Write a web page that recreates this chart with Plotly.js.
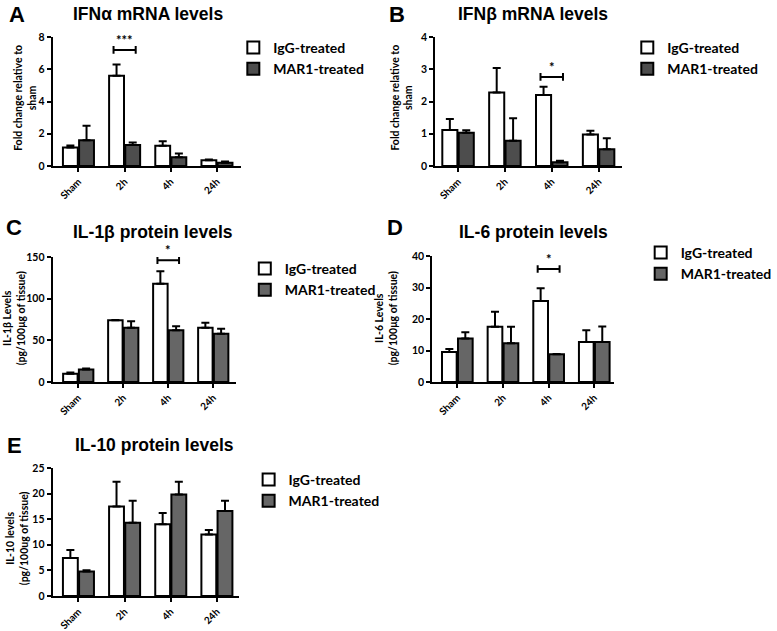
<!DOCTYPE html>
<html><head><meta charset="utf-8">
<script src="https://cdn.plot.ly/plotly-3.0.1.min.js"></script>
<style>html,body{margin:0;padding:0;background:#fff;}#chart{width:777px;height:631px;}</style>
</head><body><div id="chart"></div>
<script>
// ---- Data ----
const categories = ['Sham', '2h', '4h', '24h'];
const seriesNames = ['IgG-treated', 'MAR1-treated'];

// Panel A: IFNα mRNA (fold change)
const ifnaIgG = [1.15, 5.6, 1.25, 0.35];
const ifnaIgGErr = [0.12, 0.7, 0.28, 0.05];
const ifnaMAR1 = [1.6, 1.3, 0.55, 0.2];
const ifnaMAR1Err = [0.9, 0.15, 0.22, 0.08];

// Panel B: IFNβ mRNA (fold change)
const ifnbIgG = [1.12, 2.28, 2.2, 0.98];
const ifnbIgGErr = [0.34, 0.76, 0.26, 0.11];
const ifnbMAR1 = [1.03, 0.78, 0.12, 0.52];
const ifnbMAR1Err = [0.08, 0.7, 0.04, 0.34];

// Panel C: IL-1β protein (pg/100µg tissue)
const il1bIgG = [10, 74, 118, 65];
const il1bIgGErr = [1.5, 0.5, 15, 6];
const il1bMAR1 = [15, 65, 62, 58];
const il1bMAR1Err = [1.2, 8, 5, 6];

// Panel D: IL-6 protein
const il6IgG = [9.5, 17.5, 25.7, 12.7];
const il6IgGErr = [1.0, 4.8, 4.1, 3.7];
const il6MAR1 = [13.8, 12.3, 8.8, 12.7];
const il6MAR1Err = [2.0, 5.2, 0.05, 4.9];

// Panel E: IL-10 protein
const il10IgG = [7.4, 17.5, 14.0, 12.0];
const il10IgGErr = [1.6, 4.8, 2.2, 0.9];
const il10MAR1 = [4.8, 14.3, 19.8, 16.6];
const il10MAR1Err = [0.25, 4.3, 2.5, 2.0];

// Significance (category index, star label, bracket level in data units)
const sigA = {cat: 1, label: '***', level: 7.2};
const sigB = {cat: 2, label: '*', level: 2.76};
const sigC = {cat: 2, label: '*', level: 146};
const sigD = {cat: 2, label: '*', level: 35.9};

// ---- Layout helpers ----
const W = 777, H = 631;
const fx = p => p / W;
const fy = p => 1 - p / H;
const xTickFont = {family: 'Lato, "Open Sans", sans-serif', size: 10, color: '#000', weight: 'bold'};
const yTickFont = {family: 'Lato, "Open Sans", sans-serif', size: 10.5, color: '#000', weight: 'bold'};
const legFont = {family: 'Lato, "Open Sans", sans-serif', size: 14, color: '#000', weight: 'bold'};

const panels = [
  {id: '', igg: ifnaIgG, iggE: ifnaIgGErr, mar: ifnaMAR1, marE: ifnaMAR1Err, dark: '#4d4d4d',
   xpx: [55, 252], ypx: [166, 37], xr: [-0.56, 3.52], yr: [0, 8], dt: 2,
   letter: 'A', lpos: [18, 15], title: 'IFN\u03b1 mRNA levels', tpos: [155, 14],
   ytitle: 'Fold change relative to<br>sham', ytpos: [26, 98],
   leg: [244, 32], sig: sigA},
  {id: '2', igg: ifnbIgG, iggE: ifnbIgGErr, mar: ifnbMAR1, marE: ifnbMAR1Err, dark: '#4d4d4d',
   xpx: [455, 650], ypx: [166, 37], xr: [-0.49, 3.49], yr: [0, 4], dt: 1,
   letter: 'B', lpos: [415, 14], title: 'IFN\u03b2 mRNA levels', tpos: [557, 14],
   ytitle: 'Fold change relative to<br>sham', ytpos: [420, 98],
   leg: [656, 32], sig: sigB},
  {id: '3', igg: il1bIgG, iggE: il1bIgGErr, mar: il1bMAR1, marE: il1bMAR1Err, dark: '#666666',
   xpx: [55, 247], ypx: [382, 257], xr: [-0.57, 3.51], yr: [0, 150], dt: 50,
   letter: 'C', lpos: [15, 228], title: 'IL-1\u03b2 protein levels', tpos: [160, 232],
   ytitle: 'IL-1\u03b2 Levels<br>(pg/100\u03bcg of tissue)', ytpos: [15, 318],
   leg: [256, 253], sig: sigC},
  {id: '4', igg: il6IgG, iggE: il6IgGErr, mar: il6MAR1, marE: il6MAR1Err, dark: '#666666',
   xpx: [452, 642], ypx: [382, 256], xr: [-0.55, 3.43], yr: [0, 40], dt: 10,
   letter: 'D', lpos: [413, 228], title: 'IL-6 protein levels', tpos: [558, 232],
   ytitle: 'IL-6 Levels<br>(pg/100\u03bcg of tissue)', ytpos: [404, 318],
   leg: [670, 237], sig: sigD},
  {id: '5', igg: il10IgG, iggE: il10IgGErr, mar: il10MAR1, marE: il10MAR1Err, dark: '#666666',
   xpx: [55, 250], ypx: [596, 468], xr: [-0.56, 3.48], yr: [0, 25], dt: 5,
   letter: 'E', lpos: [15, 445], title: 'IL-10 protein levels', tpos: [162, 445],
   ytitle: 'IL-10 levels<br>(pg/100ug of tissue)', ytpos: [18, 538],
   leg: [260, 464], sig: null}
];

const data = [];
const layout = {
  width: W, height: H, margin: {l: 0, r: 0, t: 0, b: 0},
  paper_bgcolor: '#fff', plot_bgcolor: 'rgba(0,0,0,0)',
  barmode: 'group', bargap: 0.3, bargroupgap: 0.08,
  showlegend: true, annotations: [], shapes: [],
  font: {family: 'Lato, sans-serif', color: '#000'}
};

panels.forEach((p, i) => {
  const xa = 'x' + p.id, ya = 'y' + p.id;
  const legName = i === 0 ? 'legend' : 'legend' + (i + 1);
  const zeros = categories.map(() => 0);
  data.push({
    type: 'bar', x: categories, y: p.igg, name: seriesNames[0], xaxis: xa, yaxis: ya, legend: legName,
    marker: {color: '#ffffff', line: {color: '#000', width: 2}},
    error_y: {type: 'data', symmetric: false, array: p.iggE, arrayminus: zeros, color: '#000', thickness: 2, width: 4}
  });
  data.push({
    type: 'bar', x: categories, y: p.mar, name: seriesNames[1], xaxis: xa, yaxis: ya, legend: legName,
    marker: {color: p.dark, line: {color: '#000', width: 2}},
    error_y: {type: 'data', symmetric: false, array: p.marE, arrayminus: zeros, color: '#000', thickness: 2, width: 4}
  });
  const xk = 'xaxis' + p.id, yk = 'yaxis' + p.id;
  layout[xk] = {
    domain: [fx(p.xpx[0]), fx(p.xpx[1])], anchor: ya, type: 'category', range: p.xr,
    showline: true, linecolor: '#000', linewidth: 2, ticks: 'outside', ticklen: 4, tickwidth: 2, tickcolor: '#000',
    tickangle: -45, tickfont: xTickFont, showgrid: false, zeroline: false, fixedrange: true
  };
  layout[yk] = {
    domain: [fy(p.ypx[0]), fy(p.ypx[1])], anchor: xa, range: p.yr, dtick: p.dt, tick0: 0,
    showline: true, linecolor: '#000', linewidth: 2, ticks: 'outside', ticklen: 4, tickwidth: 2, tickcolor: '#000',
    tickfont: yTickFont, showgrid: false, zeroline: false, fixedrange: true
  };
  layout[legName] = {
    x: fx(p.leg[0]), y: fy(p.leg[1]), xanchor: 'left', yanchor: 'top', xref: 'paper', yref: 'paper',
    font: legFont, bgcolor: 'rgba(0,0,0,0)', tracegroupgap: 4, itemwidth: 30
  };
  layout.annotations.push({
    text: '<b>' + p.letter + '</b>', x: fx(p.lpos[0]), y: fy(p.lpos[1]), xref: 'paper', yref: 'paper',
    showarrow: false, xanchor: 'center', yanchor: 'middle',
    font: {family: '"Liberation Sans", Arial, sans-serif', size: 22, color: '#000'}
  });
  layout.annotations.push({
    text: '<b>' + p.title + '</b>', x: fx(p.tpos[0]), y: fy(p.tpos[1]), xref: 'paper', yref: 'paper',
    showarrow: false, xanchor: 'center', yanchor: 'middle',
    font: {family: '"Liberation Sans", Arial, sans-serif', size: 17.5, color: '#000'}
  });
  layout.annotations.push({
    text: '<b>' + p.ytitle + '</b>', x: fx(p.ytpos[0]), y: fy(p.ytpos[1]), xref: 'paper', yref: 'paper',
    showarrow: false, xanchor: 'center', yanchor: 'middle', textangle: -90,
    font: {family: 'Lato, sans-serif', size: 10.5, color: '#000'}
  });
  if (p.sig) {
    const s = p.sig, span = (p.yr[1] - p.yr[0]);
    const c = s.cat;
    const x0 = c - 0.24, x1 = c + 0.24;
    const tk = span * 0.03;
    const xref = 'x' + p.id, yref = 'y' + p.id;
    layout.shapes.push({type: 'line', xref: xref, yref: yref, x0: x0, x1: x1, y0: s.level, y1: s.level, line: {color: '#000', width: 2}});
    layout.shapes.push({type: 'line', xref: xref, yref: yref, x0: x0, x1: x0, y0: s.level - tk, y1: s.level + tk, line: {color: '#000', width: 2}});
    layout.shapes.push({type: 'line', xref: xref, yref: yref, x0: x1, x1: x1, y0: s.level - tk, y1: s.level + tk, line: {color: '#000', width: 2}});
    layout.annotations.push({
      text: '<b>' + s.label + '</b>', x: c, y: s.level, xref: xref, yref: yref, showarrow: false,
      xanchor: 'center', yanchor: 'bottom', yshift: 0,
      font: {family: 'Lato, sans-serif', size: 13, color: '#000'}
    });
  }
});

Plotly.newPlot('chart', data, layout, {displayModeBar: false, staticPlot: true});
</script>
</body></html>
